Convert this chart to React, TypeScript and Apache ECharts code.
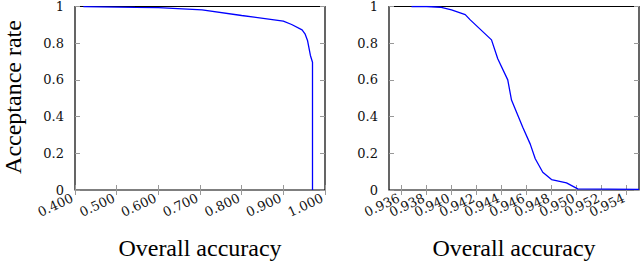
import React, { useEffect, useRef } from "react";
import * as echarts from "echarts";

const leftX = [0.42, 0.544, 0.6, 0.705, 0.8, 0.9, 0.92, 0.945, 0.952, 0.958, 0.965, 0.97, 0.97];
const leftY = [0.999, 0.995, 0.994, 0.982, 0.951, 0.92, 0.902, 0.873, 0.851, 0.815, 0.733, 0.696, 0.0];

const rightX = [0.9368, 0.938, 0.9391, 0.94, 0.9411, 0.9415, 0.9432, 0.9437, 0.9445, 0.9448, 0.9457, 0.9463, 0.9467, 0.9473, 0.948, 0.9492, 0.9501, 0.955];
const rightY = [1.0, 1.0, 0.996, 0.982, 0.956, 0.927, 0.818, 0.715, 0.6, 0.49, 0.342, 0.25, 0.17, 0.097, 0.057, 0.039, 0.006, 0.003];

const leftXTicks = [0.4, 0.5, 0.6, 0.7, 0.8, 0.9, 1.0];
const rightXTicks = [0.936, 0.938, 0.94, 0.942, 0.944, 0.946, 0.948, 0.95, 0.952, 0.954];
const yTicks = [0, 0.2, 0.4, 0.6, 0.8, 1];

const xTitle = "Overall accuracy";
const yTitle = "Acceptance rate";

const tickFont = "'DejaVu Serif', serif";
const titleFont = "'Liberation Serif', 'Times New Roman', serif";

export default function App() {
  const ref = useRef<HTMLDivElement>(null);
  useEffect(() => {
    if (!ref.current) return;
    const chart = echarts.init(ref.current, undefined, { renderer: "svg" });
    const leftRect = { left: 75, top: 5, width: 250, height: 185 };
    const rightRect = { left: 389, top: 5, width: 250, height: 185 };
    const rightEven = rightXTicks.filter((_, i) => i % 2 === 0);
    const rightOdd = rightXTicks.filter((_, i) => i % 2 === 1);
    const ranges = [
      { min: 0.4, max: 1.0, ticks: leftXTicks, labels: leftXTicks },
      { min: 0.935, max: 0.955, ticks: rightXTicks, labels: rightEven },
    ];
    const tickStyle = { show: true, inside: true, length: 5, lineStyle: { color: "#999", width: 1 } };
    const xLabelStyle = {
      rotate: 25, margin: 6, color: "#111",
      fontFamily: tickFont, fontSize: 13, padding: [0, 3, 0, 0],
      showMinLabel: true, showMaxLabel: true, hideOverlap: false,
      formatter: (v: number) => v.toFixed(3),
    };
    const xAxis: any[] = [];
    const yAxis: any[] = [];
    ranges.forEach((r, i) => {
      xAxis.push({
        type: "value", gridIndex: i, position: "bottom", min: r.min, max: r.max,
        axisLine: { show: false }, splitLine: { show: false },
        axisTick: { ...tickStyle, customValues: r.ticks },
        axisLabel: { ...xLabelStyle, customValues: r.labels },
      });
      xAxis.push({
        type: "value", gridIndex: i, position: "top", min: r.min, max: r.max,
        axisLine: { show: false }, splitLine: { show: false },
        axisTick: { ...tickStyle, customValues: r.ticks },
        axisLabel: { show: false },
      });
      yAxis.push({
        type: "value", gridIndex: i, position: "left", min: 0, max: 1,
        axisLine: { show: false }, splitLine: { show: false },
        axisTick: { ...tickStyle, customValues: yTicks },
        axisLabel: {
          customValues: yTicks, margin: 11, color: "#111",
          fontFamily: tickFont, fontSize: 13,
          showMinLabel: true, showMaxLabel: true,
          formatter: (v: number) => String(Math.round(v * 10) / 10),
        },
      });
      yAxis.push({
        type: "value", gridIndex: i, position: "right", min: 0, max: 1,
        axisLine: { show: false }, splitLine: { show: false },
        axisTick: { ...tickStyle, customValues: yTicks },
        axisLabel: { show: false },
      });
    });
    // extra overlay grid carrying the remaining (odd) tick labels of the right plot
    xAxis.push({
      type: "value", gridIndex: 2, position: "bottom", min: 0.935, max: 0.955,
      axisLine: { show: false }, splitLine: { show: false }, axisTick: { show: false },
      axisLabel: { ...xLabelStyle, customValues: rightOdd },
    });
    yAxis.push({ type: "value", gridIndex: 2, min: 0, max: 1, show: false });

    chart.setOption({
      animation: false,
      backgroundColor: "#fff",
      grid: [
        { ...leftRect, show: true, borderColor: "#000", borderWidth: 1.2, backgroundColor: "transparent" },
        { ...rightRect, show: true, borderColor: "#000", borderWidth: 1.2, backgroundColor: "transparent" },
        { ...rightRect, show: false },
      ],
      xAxis,
      yAxis,
      series: [
        {
          type: "line", xAxisIndex: 0, yAxisIndex: 0, showSymbol: false, symbol: "none",
          data: leftX.map((x, i) => [x, leftY[i]]),
          lineStyle: { color: "#0000ff", width: 1.3 },
        },
        {
          type: "line", xAxisIndex: 2, yAxisIndex: 2, showSymbol: false, symbol: "none",
          data: rightX.map((x, i) => [x, rightY[i]]),
          lineStyle: { color: "#0000ff", width: 1.3 },
        },
      ],
      graphic: [
        {
          type: "text", x: 200, y: 248,
          style: { text: xTitle, fontFamily: titleFont, fontSize: 24, fill: "#000", align: "center", verticalAlign: "middle" },
        },
        {
          type: "text", x: 514, y: 248,
          style: { text: xTitle, fontFamily: titleFont, fontSize: 24, fill: "#000", align: "center", verticalAlign: "middle" },
        },
        {
          type: "text", x: 13, y: 97, rotation: Math.PI / 2,
          style: { text: yTitle, fontFamily: titleFont, fontSize: 24, fill: "#000", align: "center", verticalAlign: "middle" },
        },
      ],
    });
    return () => chart.dispose();
  }, []);
  return <div ref={ref} style={{ position: "fixed", left: 0, top: 0, width: 640, height: 263 }} />;
}
